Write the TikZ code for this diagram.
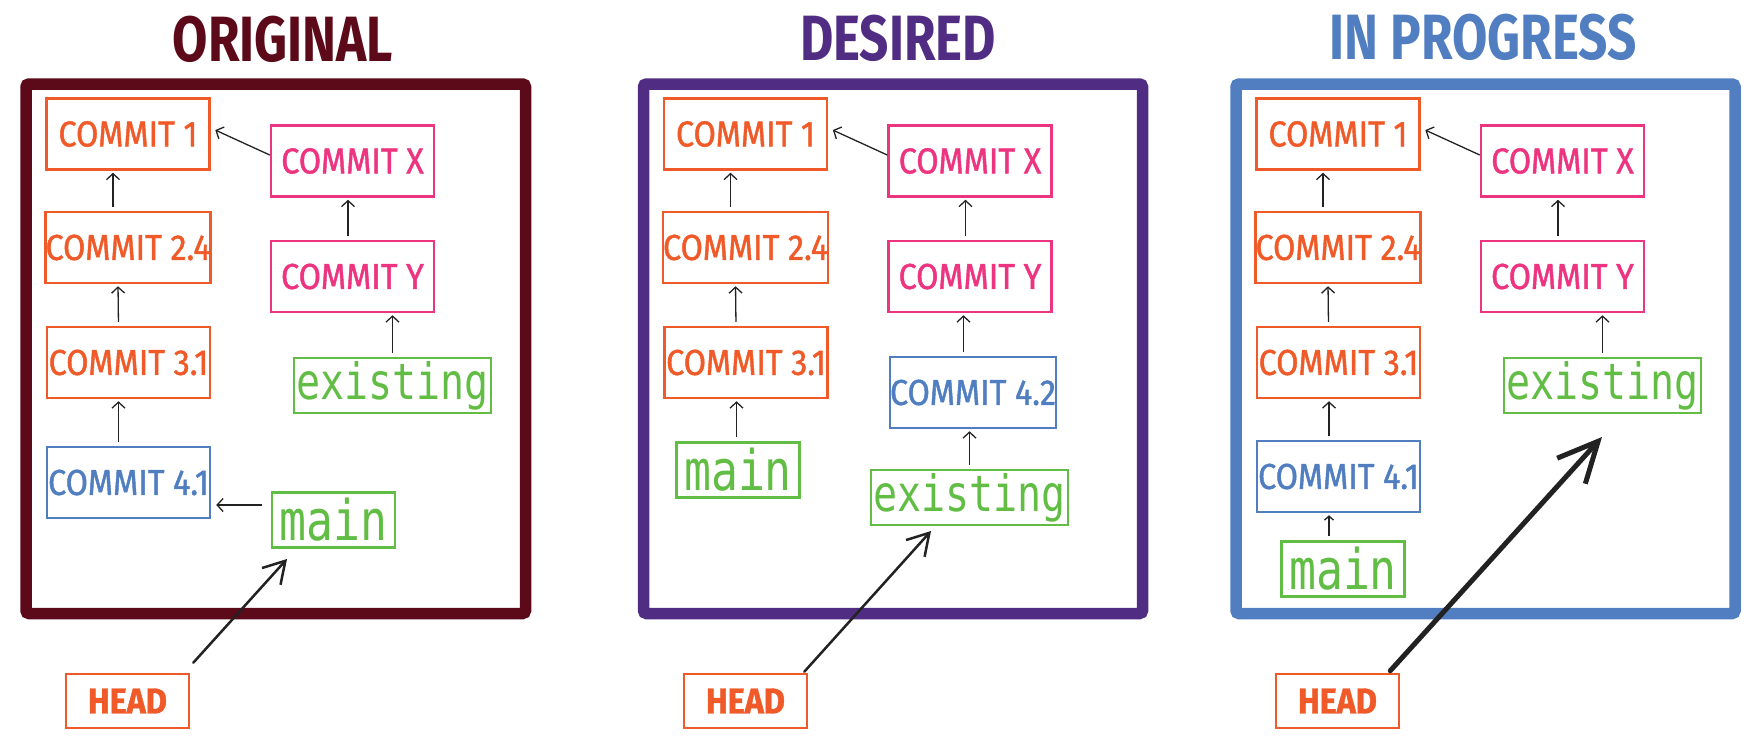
\documentclass[tikz,border=0pt]{standalone}
\usepackage{fontspec}
\usetikzlibrary{arrows.meta}
\newfontfamily\boxfont[FakeStretch=0.9,FakeBold=1.2]{Fira Sans}
\newfontfamily\titlefont[FakeStretch=0.8]{Fira Sans}
\newfontfamily\codefont[FakeStretch=0.8]{DejaVu Sans Mono}
\definecolor{corig}{RGB}{92,10,26}
\definecolor{cdesir}{RGB}{80,44,130}
\definecolor{cblue}{RGB}{80,126,192}
\definecolor{corange}{RGB}{240,90,40}
\definecolor{cpink}{RGB}{237,52,128}
\definecolor{cgreen}{RGB}{98,189,69}
\definecolor{cgray}{RGB}{34,34,34}

\begin{document}
\begin{tikzpicture}[x=1pt,y=-1pt]
	\tikzset{
	  commit/.style={draw,line width=2.5pt,minimum width=163pt,minimum height=71pt,inner sep=0pt,
	    font=\boxfont\fontsize{36}{40}\selectfont},
	  trunk/.style={commit,draw=corange,text=corange},
	  side/.style={commit,draw=cpink,text=cpink},
	  moved/.style={commit,draw=cblue,text=cblue},
	  branch/.style={draw=cgreen,text=cgreen,line width=2.2pt,inner sep=0pt,minimum height=55pt,
	    font=\codefont\fontsize{50}{55}\selectfont},
	  headbox/.style={draw=corange,text=corange,line width=2.5pt,inner sep=0pt,
	    minimum width=123pt,minimum height=54pt,font=\boxfont\bfseries\fontsize{36}{40}\selectfont},
	  title/.style={font=\titlefont\bfseries\fontsize{64}{70}\selectfont},
	  frame/.style={line width=11.5pt,rounded corners=3pt},
	  link/.style={draw=cgray,line width=1.3pt,-{Straight Barb[length=6pt,width=13pt]},
	    shorten >=2pt,shorten <=4pt},
	  pointer/.style={draw=cgray,line width=2.5pt,line cap=round,-{Straight Barb[length=21pt,width=25pt]}}
	}
	\useasboundingbox (0,0) rectangle (1760,736);

	    \node[title,text=corig] (t1) at (283,39) {ORIGINAL};
	    \draw[frame,draw=corig] (26,84) rectangle (525.5,613.5);
	    \node[trunk] (o1) at (128,134) {COMMIT 1};
	    \node[trunk] (o24) at (128,247.5) {COMMIT 2.4};
	    \node[trunk] (o31) at (128.5,362.5) {COMMIT 3.1};
	    \node[moved] (o41) at (128.5,482.5) {COMMIT 4.1};
	    \node[side] (ox) at (352.5,161) {COMMIT X};
	    \node[side] (oy) at (352.5,276.5) {COMMIT Y};
	    \node[branch,minimum width=197pt] (oex) at (392.5,385.5) {existing};
	    \node[branch,minimum width=123pt,font=\codefont\fontsize{56}{60}\selectfont] (omain) at (333.5,520) {main};
	    \node[headbox] (ohead) at (127.5,701) {HEAD};
	    \coordinate (otip) at (287,559);
	    \draw[link] ([xshift=-15]o24.north) -- ([xshift=-15]o1.south);
	    \draw[link] ([xshift=-10]o31.north) -- ([xshift=-10]o24.south);
	    \draw[link] ([xshift=-10]o41.north) -- ([xshift=-10]o31.south);
	    \draw[link] ([xshift=-4.5]oy.north) -- ([xshift=-4.5]ox.south);
	    \draw[link] (oex.north) -- ([xshift=40]oy.south);
	    \draw[link,shorten <=0pt,shorten >=5pt] ([yshift=6]ox.west) -- ([yshift=6]o1.east);
	    \draw[link,shorten <=9pt,shorten >=5pt] ([yshift=15]omain.west) -- ([yshift=-22.5]o41.east);
	    \draw[pointer] ([xshift=3,yshift=10]ohead.north east) -- (otip);

	    \begin{scope}[xshift=617.5]
	    \node[title,text=cdesir] (t2) at (280.5,38) {DESIRED};
	    \draw[frame,draw=cdesir] (26,84) rectangle (525,613.5);
	    \node[trunk] (d1) at (128,134) {COMMIT 1};
	    \node[trunk] (d24) at (128,247.5) {COMMIT 2.4};
	    \node[trunk] (d31) at (128.5,362.5) {COMMIT 3.1};
	    \node[side] (dx) at (352.5,161) {COMMIT X};
	    \node[side] (dy) at (352.5,276.5) {COMMIT Y};
	    \node[moved] (d42) at (355.5,392.5) {COMMIT 4.2};
	    \node[branch,minimum width=123pt,font=\codefont\fontsize{56}{60}\selectfont] (dmain) at (120.5,470) {main};
	    \node[branch,minimum width=197pt] (dex) at (352,497.5) {existing};
	    \node[headbox] (dhead) at (128,701) {HEAD};
	    \coordinate (dtip) at (313.5,531);
	    \draw[link] ([xshift=-15]d24.north) -- ([xshift=-15]d1.south);
	    \draw[link] ([xshift=-10]d31.north) -- ([xshift=-10]d24.south);
	    \draw[link] ([xshift=-1.5]dmain.north) -- ([xshift=-9.5]d31.south);
	    \draw[link] ([xshift=-4.5]dy.north) -- ([xshift=-4.5]dx.south);
	    \draw[link] ([xshift=-9.5]d42.north) -- ([xshift=-6.5]dy.south);
	    \draw[link] (dex.north) -- ([xshift=-3.5]d42.south);
	    \draw[link,shorten <=0pt,shorten >=5pt] ([yshift=6]dx.west) -- ([yshift=6]d1.east);
	    \draw[pointer] ([xshift=-4,yshift=1]dhead.north east) -- (dtip);
	    \end{scope}

	    \begin{scope}[xshift=1210]
	    \node[title,text=cblue] (t3) at (273,37.5) {IN PROGRESS};
	    \draw[frame,draw=cblue] (26,84) rectangle (525,613.5);
	    \node[trunk] (p1) at (128,134) {COMMIT 1};
	    \node[trunk] (p24) at (128,247.5) {COMMIT 2.4};
	    \node[trunk] (p31) at (128.5,362.5) {COMMIT 3.1};
	    \node[moved] (p41) at (128.5,476.5) {COMMIT 4.1};
	    \node[side] (px) at (352.5,161) {COMMIT X};
	    \node[side] (py) at (352.5,276.5) {COMMIT Y};
	    \node[branch,minimum width=197pt] (pex) at (392.5,385.5) {existing};
	    \node[branch,minimum width=123pt,font=\codefont\fontsize{56}{60}\selectfont] (pmain) at (133,569) {main};
	    \node[headbox] (phead) at (127.5,701) {HEAD};
	    \coordinate (ptip) at (392,437);
	    \draw[link] ([xshift=-15]p24.north) -- ([xshift=-15]p1.south);
	    \draw[link] ([xshift=-10]p31.north) -- ([xshift=-10]p24.south);
	    \draw[link] ([xshift=-9.5]p41.north) -- ([xshift=-9.5]p31.south);
	    \draw[link,-{Straight Barb[length=4pt,width=9pt]}] ([xshift=-14]pmain.north) -- ([xshift=-9.5]p41.south);
	    \draw[link] ([xshift=-4.5]py.north) -- ([xshift=-4.5]px.south);
	    \draw[link] (pex.north) -- ([xshift=40]py.south);
	    \draw[link,shorten <=0pt,shorten >=5pt] ([yshift=6]px.west) -- ([yshift=6]p1.east);
	    \draw[pointer,line width=5pt,-{Straight Barb[length=40pt,width=38pt]}] ([xshift=-10,yshift=2]phead.north east) -- (ptip);
	    \end{scope}

\end{tikzpicture}
\end{document}
